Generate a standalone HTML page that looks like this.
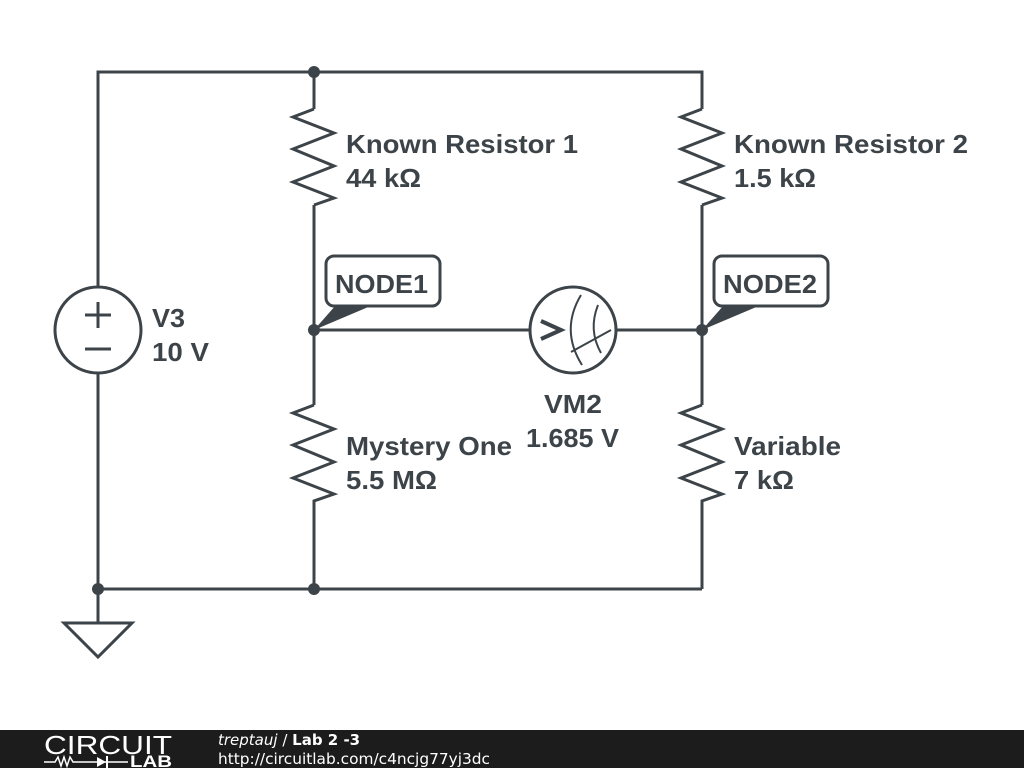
<!DOCTYPE html>
<html><head><style>
html,body{margin:0;padding:0;width:1024px;height:768px;overflow:hidden;background:#fff}
svg{display:block}
text{font-family:"Liberation Sans",sans-serif;}
</style></head><body>
<svg width="1024" height="768" viewBox="0 0 1024 768">
<g stroke="#3d4449" stroke-width="3" fill="none" stroke-linejoin="miter">
<polyline points="98,287 98,72 702,72 702,109"/>
<line x1="314" y1="72" x2="314" y2="109"/>
<line x1="314" y1="205" x2="314" y2="405"/>
<line x1="702" y1="205" x2="702" y2="405"/>
<line x1="314" y1="330" x2="530" y2="330"/>
<line x1="616" y1="330" x2="702" y2="330"/>
<line x1="314" y1="507" x2="314" y2="589"/>
<line x1="702" y1="507" x2="702" y2="589"/>
<line x1="98" y1="373" x2="98" y2="623"/>
<line x1="98" y1="589" x2="702" y2="589"/>
<polyline points="314,109 293,117 334,133 293,149 334,166 293,182 334,198 314,205"/>
<polyline points="702,109 681,117 722,133 681,149 722,166 681,182 722,198 702,205"/>
<polyline points="314,405 293,413 334,429 293,445 334,462 293,478 334,494 314,501 314,507"/>
<polyline points="702,405 681,413 722,429 681,445 722,462 681,478 722,494 702,501 702,507"/>
<circle cx="98" cy="330" r="43"/>
<line x1="85" y1="315" x2="111" y2="315"/>
<line x1="98" y1="302" x2="98" y2="328"/>
<line x1="85" y1="349" x2="111" y2="349"/>
<polygon points="64,623 132,623 98,657"/>
<circle cx="573" cy="330" r="43"/>
<path d="M581,295 Q560,330 582,365" stroke-width="2"/>
<path d="M598,305 Q588,330 601,353" stroke-width="2"/>
<line x1="571" y1="352" x2="611" y2="330" stroke-width="2"/>
<polyline points="541,321 561,330 541,339" stroke-width="4"/>
<rect x="326" y="256" width="114" height="50" rx="8" fill="#fff"/>
<rect x="714" y="256" width="114" height="50" rx="8" fill="#fff"/>
</g>
<g fill="#3d4449">
<circle cx="314" cy="72" r="6"/>
<circle cx="314" cy="330" r="6"/>
<circle cx="702" cy="330" r="6"/>
<circle cx="314" cy="589" r="6"/>
<circle cx="98" cy="589" r="6"/>
<polygon points="314,330 336,305 373,305"/>
<polygon points="702,330 724,305 761,305"/>
</g>
<g fill="#3d4449" font-weight="bold" font-size="26">
<text x="346" y="153" textLength="232" lengthAdjust="spacingAndGlyphs">Known Resistor 1</text>
<text x="346" y="187" textLength="75" lengthAdjust="spacingAndGlyphs">44 kΩ</text>
<text x="734" y="153" textLength="234" lengthAdjust="spacingAndGlyphs">Known Resistor 2</text>
<text x="734" y="187" textLength="82" lengthAdjust="spacingAndGlyphs">1.5 kΩ</text>
<text x="346" y="455" textLength="166" lengthAdjust="spacingAndGlyphs">Mystery One</text>
<text x="346" y="489" textLength="91" lengthAdjust="spacingAndGlyphs">5.5 MΩ</text>
<text x="734" y="455" textLength="107" lengthAdjust="spacingAndGlyphs">Variable</text>
<text x="734" y="489" textLength="60" lengthAdjust="spacingAndGlyphs">7 kΩ</text>
<text x="152" y="327" textLength="33" lengthAdjust="spacingAndGlyphs">V3</text>
<text x="152" y="361" textLength="57" lengthAdjust="spacingAndGlyphs">10 V</text>
<text x="544" y="413" textLength="58" lengthAdjust="spacingAndGlyphs">VM2</text>
<text x="526" y="447" textLength="93" lengthAdjust="spacingAndGlyphs">1.685 V</text>
<text x="335" y="293" textLength="93" lengthAdjust="spacingAndGlyphs">NODE1</text>
<text x="723" y="293" textLength="94" lengthAdjust="spacingAndGlyphs">NODE2</text>
</g>
<rect x="0" y="730" width="1024" height="38" fill="#1c1c1c"/>
<text x="44" y="754" fill="#fff" font-size="26" textLength="128" lengthAdjust="spacingAndGlyphs">CIRCUIT</text>
<g stroke="#fff" stroke-width="1.5" fill="none">
<polyline points="44,762 55,762 58,757 61,766 64,757 67,766 70,757 73,762 82,762"/>
<line x1="82" y1="762" x2="128" y2="762"/>
</g>
<polygon points="97,757 97,767 106,762" fill="#fff"/>
<line x1="107" y1="756" x2="107" y2="768" stroke="#fff" stroke-width="2"/>
<text x="130" y="767" fill="#fff" font-size="17" font-weight="bold" textLength="42" lengthAdjust="spacingAndGlyphs">LAB</text>
<text x="218" y="745" fill="#fff" font-size="15" style="font-family:'DejaVu Sans',sans-serif"><tspan font-style="italic">treptauj</tspan> / <tspan font-weight="bold">Lab 2 -3</tspan></text>
<text x="218" y="764" fill="#fff" font-size="15" textLength="272" lengthAdjust="spacingAndGlyphs" style="font-family:'DejaVu Sans',sans-serif">http://circuitlab.com/c4ncjg77yj3dc</text>
</svg>
</body></html>
